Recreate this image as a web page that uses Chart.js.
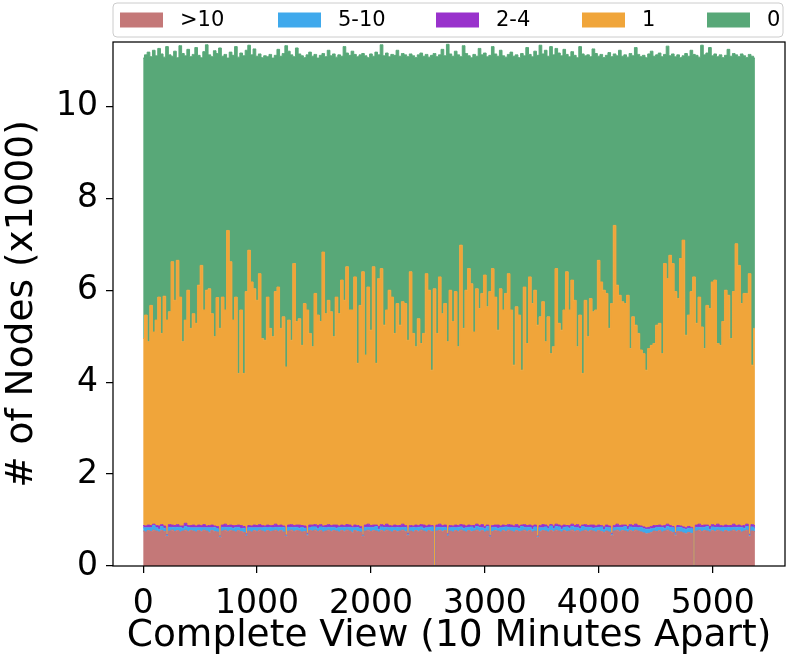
<!DOCTYPE html>
<html><head><meta charset="utf-8">
<script src="https://cdn.jsdelivr.net/npm/chart.js@4.4.1/dist/chart.umd.min.js"></script>
<style>html,body{margin:0;padding:0;background:#fff;}canvas{display:block;}</style>
</head><body>
<canvas id="c" width="790" height="660"></canvas>
<script>
const categories = ['>10', '5-10', '2-4', '1', '0'];
const colors = ['#C47878', '#3FA9EC', '#9932CC', '#F0A53A', '#58A878'];
const xTicks = [0, 1000, 2000, 3000, 4000, 5000];
const yTicks = [0, 2, 4, 6, 8, 10];
const xTitle = 'Complete View (10 Minutes Apart)';
const yTitle = '# of Nodes (x1000)';
const STEP = 23.25; // one sample read every ~23 ten-minute steps

// band ">10" (x1000)
const over10 = [
0.76,0.74,0.77,0.75,0.78,0.76,0.74,0.77,0.75,0.64,0.76,0.78,0.75,0.77,0.74,0.76,0.78,0.75,0.77,0.76,
0.74,0.77,0.75,0.78,0.76,0.73,0.77,0.75,0.74,0.62,0.76,0.78,0.75,0.77,0.76,0.74,0.77,0.75,0.73,0.65,
0.76,0.74,0.77,0.75,0.78,0.76,0.74,0.77,0.75,0.76,0.78,0.75,0.77,0.74,0.64,0.76,0.78,0.75,0.77,0.76,
0.74,0.75,0.66,0.77,0.76,0.78,0.75,0.77,0.74,0.76,0.78,0.75,0.77,0.76,0.74,0.77,0.75,0.78,0.76,0.73,
0.77,0.75,0.74,0.64,0.76,0.78,0.75,0.77,0.76,0.74,0.77,0.75,0.78,0.76,0.74,0.77,0.75,0.76,0.78,0.75,
0.66,0.76,0.74,0.77,0.75,0.78,0.76,0.74,0.77,0.75,0.00,0.76,0.78,0.75,0.77,0.65,0.76,0.74,0.77,0.75,
0.78,0.76,0.74,0.77,0.75,0.76,0.78,0.75,0.77,0.74,0.76,0.63,0.75,0.77,0.76,0.74,0.77,0.75,0.78,0.76,
0.74,0.77,0.75,0.76,0.78,0.75,0.77,0.74,0.76,0.62,0.75,0.77,0.76,0.74,0.77,0.75,0.78,0.76,0.74,0.77,
0.75,0.76,0.78,0.75,0.77,0.74,0.76,0.78,0.75,0.77,0.76,0.74,0.77,0.75,0.73,0.76,0.74,0.66,0.76,0.78,
0.75,0.77,0.76,0.74,0.77,0.75,0.78,0.76,0.74,0.72,0.70,0.71,0.73,0.76,0.75,0.77,0.74,0.76,0.78,0.75,
0.73,0.67,0.75,0.74,0.72,0.70,0.73,0.71,0.00,0.76,0.78,0.75,0.77,0.76,0.74,0.77,0.75,0.78,0.76,0.74,
0.77,0.75,0.76,0.78,0.75,0.77,0.74,0.76,0.78,0.64,0.76,0.75];

// band "5-10"
const r5to10 = [
0.07,0.09,0.06,0.08,0.10,0.07,0.06,0.09,0.07,0.03,0.08,0.06,0.09,0.07,0.10,0.06,0.08,0.09,0.06,0.07,
0.09,0.06,0.08,0.05,0.07,0.10,0.06,0.09,0.07,0.02,0.08,0.06,0.09,0.07,0.06,0.10,0.07,0.06,0.09,0.03,
0.07,0.09,0.06,0.08,0.05,0.07,0.10,0.06,0.09,0.07,0.06,0.09,0.07,0.10,0.02,0.08,0.06,0.09,0.07,0.06,
0.10,0.07,0.03,0.06,0.09,0.07,0.06,0.08,0.10,0.07,0.06,0.09,0.07,0.06,0.10,0.07,0.09,0.06,0.08,0.10,
0.06,0.09,0.07,0.02,0.08,0.06,0.09,0.07,0.10,0.06,0.08,0.09,0.06,0.07,0.10,0.06,0.09,0.07,0.06,0.09,
0.03,0.07,0.10,0.06,0.09,0.07,0.06,0.09,0.07,0.10,0.00,0.08,0.06,0.09,0.07,0.03,0.07,0.10,0.06,0.09,
0.07,0.06,0.09,0.07,0.10,0.06,0.08,0.09,0.06,0.07,0.10,0.02,0.09,0.07,0.06,0.09,0.07,0.10,0.06,0.08,
0.09,0.06,0.07,0.10,0.06,0.09,0.07,0.06,0.09,0.02,0.08,0.06,0.09,0.07,0.10,0.06,0.08,0.09,0.06,0.07,
0.10,0.06,0.08,0.09,0.06,0.07,0.10,0.06,0.09,0.07,0.06,0.09,0.07,0.10,0.06,0.08,0.09,0.03,0.07,0.06,
0.09,0.07,0.10,0.06,0.08,0.09,0.06,0.07,0.10,0.09,0.10,0.09,0.08,0.06,0.09,0.07,0.10,0.06,0.08,0.09,
0.10,0.03,0.09,0.10,0.09,0.10,0.09,0.10,0.00,0.08,0.06,0.09,0.07,0.10,0.06,0.08,0.09,0.06,0.07,0.10,
0.06,0.09,0.07,0.06,0.09,0.07,0.10,0.06,0.08,0.03,0.09,0.07];

// band "2-4"
const r2to4 = [
0.05,0.04,0.06,0.05,0.03,0.05,0.07,0.04,0.05,0.01,0.06,0.05,0.04,0.06,0.03,0.05,0.07,0.04,0.05,0.06,
0.04,0.06,0.05,0.07,0.04,0.05,0.06,0.03,0.05,0.01,0.05,0.07,0.04,0.05,0.06,0.04,0.05,0.07,0.04,0.02,
0.05,0.04,0.06,0.05,0.07,0.05,0.03,0.06,0.04,0.05,0.07,0.04,0.05,0.03,0.01,0.05,0.06,0.04,0.05,0.07,
0.04,0.05,0.02,0.06,0.04,0.05,0.07,0.05,0.03,0.05,0.06,0.04,0.05,0.07,0.03,0.05,0.04,0.06,0.05,0.03,
0.06,0.04,0.05,0.01,0.05,0.07,0.04,0.05,0.03,0.06,0.05,0.04,0.07,0.05,0.03,0.06,0.04,0.05,0.07,0.04,
0.02,0.05,0.03,0.06,0.04,0.05,0.07,0.04,0.05,0.03,0.00,0.05,0.07,0.04,0.05,0.02,0.05,0.03,0.06,0.04,
0.05,0.07,0.04,0.05,0.03,0.06,0.05,0.04,0.07,0.05,0.03,0.01,0.04,0.05,0.07,0.04,0.05,0.03,0.06,0.05,
0.04,0.07,0.05,0.03,0.06,0.04,0.05,0.07,0.04,0.01,0.05,0.07,0.04,0.05,0.03,0.06,0.05,0.04,0.07,0.05,
0.03,0.06,0.05,0.04,0.07,0.05,0.03,0.06,0.04,0.05,0.07,0.04,0.05,0.03,0.06,0.05,0.04,0.02,0.05,0.07,
0.04,0.05,0.03,0.06,0.05,0.04,0.07,0.05,0.03,0.04,0.03,0.04,0.05,0.06,0.04,0.05,0.03,0.06,0.05,0.04,
0.03,0.02,0.04,0.03,0.04,0.03,0.04,0.03,0.00,0.05,0.07,0.04,0.05,0.03,0.06,0.05,0.04,0.07,0.05,0.03,
0.06,0.04,0.05,0.07,0.04,0.05,0.03,0.06,0.05,0.02,0.05,0.06];

// upper edge of band "1"
const top1 = [
4.95,5.46,4.88,5.67,5.09,5.35,5.85,5.06,5.87,5.35,5.53,6.62,5.78,6.65,5.85,4.88,5.35,6.00,5.17,5.49,
5.28,6.11,6.54,5.57,6.00,6.03,5.49,4.99,5.84,5.17,5.85,5.57,7.30,6.62,5.35,5.85,4.19,5.57,4.19,5.97,
6.87,6.18,6.03,5.78,6.36,4.95,4.91,5.85,5.17,4.99,5.97,6.07,5.17,5.42,
4.33,5.35,4.91,6.58,5.32,5.38,4.80,5.71,5.57,5.06,4.77,5.93,5.46,5.32,6.83,5.49,5.78,5.53,4.99,5.85,
5.49,6.22,5.78,6.51,5.57,5.57,6.29,4.41,5.67,6.40,4.59,6.07,5.13,6.51,4.41,6.25,6.47,5.24,5.57,6.00,
5.85,5.06,5.71,5.24,5.75,5.71,4.91,6.40,5.06,4.77,5.38,4.84,5.06,6.36,6.00,
4.26,6.03,5.06,6.29,5.49,5.71,4.88,6.00,5.32,5.97,4.77,6.98,5.17,6.00,6.47,6.14,5.09,6.03,5.60,5.93,
6.33,5.64,5.97,6.47,5.85,5.13,6.03,5.57,5.93,6.36,5.57,4.37,5.64,5.46,4.26,6.07,4.84,6.29,5.71,6.00,
5.24,5.42,5.75,4.88,5.42,4.62,4.77,6.47,5.28,5.13,5.57,6.40,5.57,6.22,5.78,4.77,5.46,4.19,5.78,4.99,
5.82,5.53,
5.57,6.65,6.18,6.00,5.93,5.17,5.71,7.41,6.11,5.89,5.75,5.71,5.89,4.73,5.42,5.24,5.06,4.70,4.62,4.26,
4.73,4.80,4.84,5.24,5.28,4.62,6.58,6.25,6.76,6.58,5.97,5.82,6.69,7.09,5.02,5.46,5.97,6.29,5.28,5.85,
5.20,4.73,5.67,5.60,6.18,6.22,4.84,4.80,5.32,6.00,5.89,4.95,5.97,7.01,6.54,5.71,5.93,5.93,6.36,4.37,
5.17];

// upper edge of band "0" (total)
const total = [
11.05,11.12,11.18,11.08,11.22,11.10,11.26,11.14,11.07,11.30,11.12,11.09,11.20,11.06,11.32,11.15,11.10,11.24,11.08,11.13,
11.28,11.11,11.06,11.19,11.34,11.12,11.08,11.21,11.15,11.27,11.09,11.13,11.05,11.18,11.11,11.30,11.07,11.16,11.10,11.22,
11.33,11.12,11.25,11.09,11.14,11.06,11.10,11.08,11.13,11.05,11.11,11.24,11.09,11.15,11.32,11.20,11.12,11.08,11.27,11.14,
11.10,11.06,11.12,11.18,11.09,11.13,11.05,11.11,11.15,11.08,11.22,11.10,11.14,11.07,11.12,11.09,11.30,11.16,11.11,11.20,
11.13,11.08,11.12,11.15,11.10,11.06,11.14,11.09,11.18,11.12,11.34,11.10,11.16,11.08,11.13,11.11,11.22,11.09,11.15,11.12,
11.08,11.14,11.10,11.06,11.12,11.16,11.09,11.13,11.07,11.11,11.15,11.08,11.12,11.24,11.10,11.35,11.14,11.09,11.20,11.12,
11.08,11.32,11.15,11.10,11.06,11.13,11.09,11.26,11.12,11.16,11.08,11.11,11.30,11.14,11.09,11.22,11.10,11.07,11.13,11.18,
11.09,11.12,11.06,11.15,11.10,11.28,11.13,11.08,11.20,11.11,11.33,11.14,11.22,11.09,11.30,11.12,11.26,11.16,11.10,11.24,
11.13,11.08,11.19,11.11,11.06,11.30,11.14,11.10,11.12,11.08,11.25,11.15,11.09,11.13,11.06,11.11,11.17,11.08,11.14,11.10,
11.22,11.09,11.12,11.07,11.15,11.10,11.28,11.13,11.08,11.11,11.06,11.14,11.20,11.09,11.12,11.16,11.08,11.13,11.31,11.10,
11.14,11.08,11.12,11.06,11.10,11.15,11.09,11.22,11.13,11.11,11.07,11.33,11.12,11.16,11.28,11.10,11.14,11.08,11.12,11.06,
11.11,11.24,11.09,11.15,11.12,11.08,11.14,11.10,11.06,11.13,11.09,11.05];

// build the stacked table
const timeIdx = over10.map((_, i) => Math.round(i * STEP));
const one = top1.map((t, i) => +(t - over10[i] - r5to10[i] - r2to4[i]).toFixed(3));
const zero = total.map((t, i) => +(t - top1[i]).toFixed(3));
const series = [over10, r5to10, r2to4, one, zero];

const FONT = "'DejaVu Sans', 'Liberation Sans', sans-serif";

const framePlugin = {
  id: 'frame',
  afterDraw(chart) {
    const { ctx, chartArea: a } = chart;
    ctx.save();
    ctx.strokeStyle = '#000';
    ctx.lineWidth = 1.25;
    ctx.strokeRect(a.left, a.top, a.right - a.left, a.bottom - a.top);
    // legend (expanded across the top)
    const bx = 113, by = 3, bw = 670, bh = 34, r = 4;
    ctx.beginPath();
    ctx.moveTo(bx + r, by); ctx.lineTo(bx + bw - r, by); ctx.arcTo(bx + bw, by, bx + bw, by + r, r);
    ctx.lineTo(bx + bw, by + bh - r); ctx.arcTo(bx + bw, by + bh, bx + bw - r, by + bh, r);
    ctx.lineTo(bx + r, by + bh); ctx.arcTo(bx, by + bh, bx, by + bh - r, r);
    ctx.lineTo(bx, by + r); ctx.arcTo(bx, by, bx + r, by, r); ctx.closePath();
    ctx.fillStyle = 'rgba(255,255,255,0.8)'; ctx.fill();
    ctx.strokeStyle = '#cccccc'; ctx.lineWidth = 1; ctx.stroke();
    const px = [120, 278, 436, 582, 707];
    ctx.font = '21px ' + FONT;
    ctx.textBaseline = 'middle';
    ctx.textAlign = 'left';
    chart.data.datasets.forEach((ds, i) => {
      ctx.fillStyle = ds.backgroundColor;
      ctx.fillRect(px[i], 12.5, 43, 15);
      ctx.fillStyle = '#000';
      ctx.fillText(ds.label, px[i] + 60, 20.5);
    });
    ctx.restore();
  }
};

new Chart(document.getElementById('c'), {
  type: 'line',
  data: {
    labels: timeIdx,
    datasets: series.map((vals, i) => ({
      label: categories[i],
      data: vals,
      backgroundColor: colors[i],
      borderColor: colors[i],
      borderWidth: 1,
      pointRadius: 0,
      stepped: 'middle',
      fill: i === 0 ? 'origin' : '-1'
    }))
  },
  options: {
    responsive: false,
    animation: false,
    devicePixelRatio: 1,
    layout: { padding: { top: 42, right: 5, left: 0, bottom: 0 } },
    plugins: { legend: { display: false }, tooltip: { enabled: false } },
    scales: {
      x: {
        type: 'linear', min: -265, max: 5635,
        afterFit: s => { s.height = 94; },
        afterBuildTicks: s => { s.ticks = xTicks.map(v => ({ value: v })); },
        grid: { drawOnChartArea: false, drawTicks: true, tickLength: 7, color: '#000', lineWidth: 1.25 },
        border: { display: false },
        ticks: { color: '#000', font: { family: FONT, size: 33 }, padding: 12, maxRotation: 0, autoSkip: false, callback: v => String(v) },
        title: { display: true, text: xTitle, color: '#000', font: { family: FONT, size: 37.5 }, padding: { top: 0, bottom: 1 } }
      },
      y: {
        stacked: true, min: 0, max: 11.4,
        afterFit: s => { s.width = 113; },
        afterBuildTicks: s => { s.ticks = yTicks.map(v => ({ value: v })); },
        grid: { drawOnChartArea: false, drawTicks: true, tickLength: 7, color: '#000', lineWidth: 1.25 },
        border: { display: false },
        ticks: { color: '#000', font: { family: FONT, size: 33 }, padding: 8, callback: v => String(v) },
        title: { display: true, text: yTitle, color: '#000', font: { family: FONT, size: 37.5 }, padding: { top: 0, bottom: 0 } }
      }
    }
  },
  plugins: [framePlugin]
});
</script>
</body></html>
